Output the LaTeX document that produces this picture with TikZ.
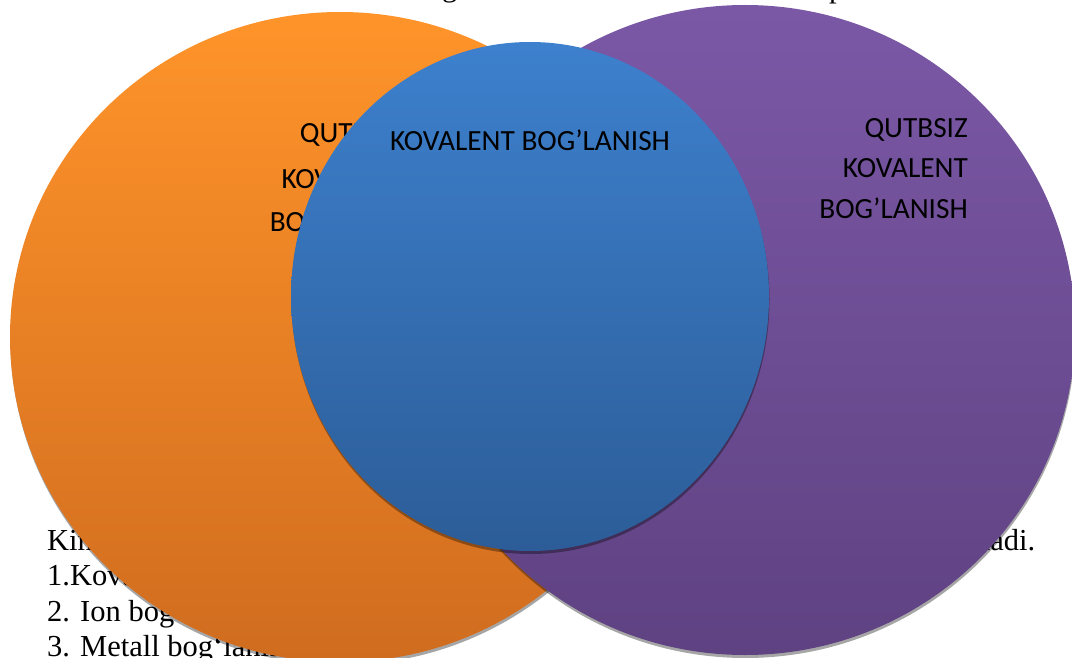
\documentclass[tikz,border=0pt]{standalone}
\usepackage{fontspec}
\setmainfont{Liberation Serif}
\newfontfamily\carl{Carlito}
\usetikzlibrary{shapes.geometric,shadows}
\definecolor{orTop}{HTML}{FF942A}
\definecolor{orBot}{HTML}{D06C1F}
\definecolor{puTop}{HTML}{7B58A6}
\definecolor{puBot}{HTML}{5F4282}
\definecolor{blTop}{HTML}{3D80CD}
\definecolor{blBot}{HTML}{2C5D98}
\tikzset{
  venn/.style={ellipse, inner sep=0pt, outer sep=0pt, draw=none,
    drop shadow={shadow xshift=0.5pt, shadow yshift=-3pt, opacity=0.35, fill=black}},
  lbl/.style={font=\carl\fontsize{29.3}{34}\selectfont, inner sep=0pt, text=black},
  doc/.style={font=\fontsize{30.5}{35}\selectfont, inner sep=0pt, text=black}
}
\begin{document}
\begin{tikzpicture}[x=1pt,y=-1pt]
\fill[white] (0,0) rectangle (1072,658);
\useasboundingbox (0,0) rectangle (1072,658);
% document text behind the diagram
\node[doc, anchor=base west] (t0) at (442,-3) {g};
\node[doc, anchor=base west] (t00) at (829,-2) {p};
\node[doc, anchor=base west] (t1) at (47,550) {\makebox[988pt][s]{Kimyoviy bog‘lanishning quyidagi turlari farqlanadi.}};
\node[doc, anchor=base west] (t2) at (47,585) {1.Kovalent bog‘lanish};
\node[doc, anchor=base west] (t3) at (47,621) {2. Ion bog‘lanish};
\node[doc, anchor=base west] (t4) at (47,656) {3. Metall bog‘lanish};
% circles
\node[venn, minimum width=660pt, minimum height=650pt, top color=orTop, bottom color=orBot] (orange) at (340,337) {};
\node[venn, minimum width=660pt, minimum height=650pt, top color=puTop, bottom color=puBot] (purple) at (745,330) {};
% orange labels
\node[lbl, anchor=base] (o1) at (344,143) {QUTBLI};
\node[lbl, anchor=base] (o2) at (344,189) {KOVALENT};
\node[lbl, anchor=base] (o3) at (344,232) {BOG’LANISH};
% purple labels
\node[lbl, anchor=base east] (p1) at (968,137.5) {QUTBSIZ};
\node[lbl, anchor=base east] (p2) at (968,178) {KOVALENT};
\node[lbl, anchor=base east] (p3) at (968,218.5) {BOG’LANISH};
% blue circle
\node[venn, minimum width=478pt, minimum height=509pt, top color=blTop, bottom color=blBot] (blue) at (530,296.5) {};
\node[lbl, anchor=base] (b1) at (530,151) {KOVALENT BOG’LANISH};
\end{tikzpicture}
\end{document}
